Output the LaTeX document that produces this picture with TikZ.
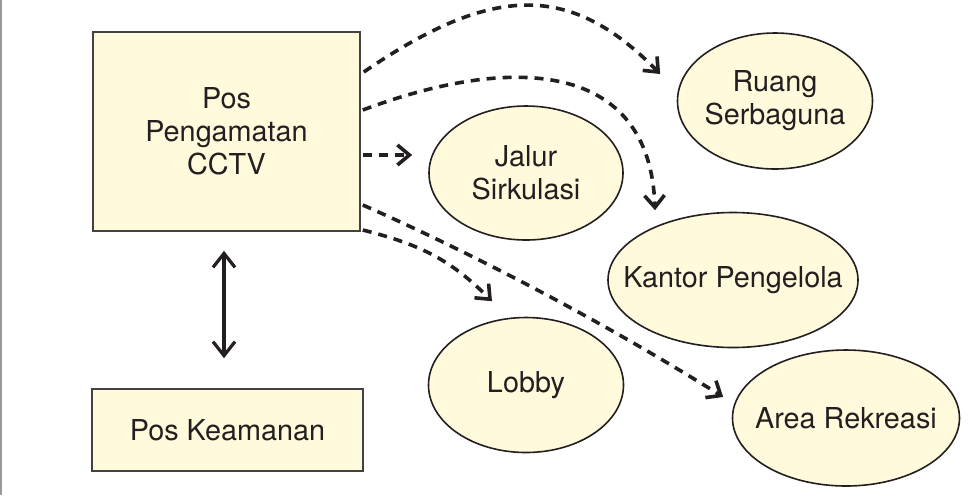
\documentclass[tikz,border=0pt]{standalone}
\usepackage{fontspec}
\setmainfont{TeX Gyre Heros}
\usepackage{tikz}
\usetikzlibrary{arrows.meta, positioning, shapes.geometric}
\definecolor{paleyellow}{HTML}{FFFADB}
\definecolor{ink}{HTML}{231F20}
\newcommand{\oneline}[1]{\makebox[0pt]{#1}}

\begin{document}
\begin{tikzpicture}[
  x=0.5pt, y=-0.5pt,
  box/.style={draw=ink!85, fill=paleyellow, line width=0.8pt, text=ink,
              font=\fontsize{14.4}{16.5}\selectfont, align=center, inner sep=0pt},
  oval/.style={ellipse, draw=ink, fill=paleyellow, line width=0.8pt, text=ink,
               font=\fontsize{14.4}{16.5}\selectfont, align=center, inner sep=0pt},
  link/.style={-{Straight Barb[length=6pt, width=10pt]}, ink, line width=1.8pt,
               dash pattern=on 4.5pt off 3.5pt},
  both/.style={{Straight Barb[length=7pt, width=11pt]}-{Straight Barb[length=7pt, width=11pt]},
               ink, line width=1.6pt},
]
  \useasboundingbox (0,0) rectangle (969,495);
  \draw[black!40, line width=1pt] (1.3,0) -- (1.3,495);

  % posts on the left
  \node[box, minimum width=133.5pt, minimum height=99.5pt] (cctv) at (226.5,131.5) {Pos\\Pengamatan\\CCTV};
  \node[box, minimum width=135.5pt, minimum height=41pt] (keamanan) at (227.5,430) {Pos Keamanan};

  % watched areas
  \node[oval, minimum width=97pt, minimum height=67pt] (jalur) at (526,173) {Jalur\\Sirkulasi};
  \node[oval, minimum width=97.5pt, minimum height=68pt] (ruang) at (775,101) {\oneline{Ruang}\\\oneline{Serbaguna}};
  \node[oval, minimum width=125pt, minimum height=67.5pt] (kantor) at (733,280) {\oneline{Kantor Pengelola}};
  \node[oval, minimum width=97.5pt, minimum height=67.5pt] (lobby) at (526,385) {Lobby};
  \node[oval, minimum width=113.5pt, minimum height=68pt] (area) at (846,418) {\oneline{Area Rekreasi}};

  \draw[link] ([shift={(3,-59.5)}]cctv.east) .. controls +(130,-89) and +(-89,-91) .. ([shift={(-16.5,-27)}]ruang.west);
  \draw[link] ([shift={(2,-21.5)}]cctv.east) .. controls +(149,-56) and +(-5,-150) .. ([shift={(-78,-1.5)}]kantor.north);
  \draw[link] ([shift={(2,23.5)}]cctv.east) -- ([shift={(-16,-18)}]jalur.west);
  \draw[link] ([shift={(2,73.5)}]cctv.east) .. controls +(120,53) and +(-110,-69) .. ([shift={(-8.5,-21)}]area.west);
  \draw[link] ([shift={(2,98.5)}]cctv.east) .. controls +(60,15) and +(-40,-40) .. ([shift={(-34,-15.5)}]lobby.north);

  \draw[both] ([shift={(-2.5,19)}]cctv.south) -- ([shift={(-3.5,-30)}]keamanan.north);
\end{tikzpicture}
\end{document}
